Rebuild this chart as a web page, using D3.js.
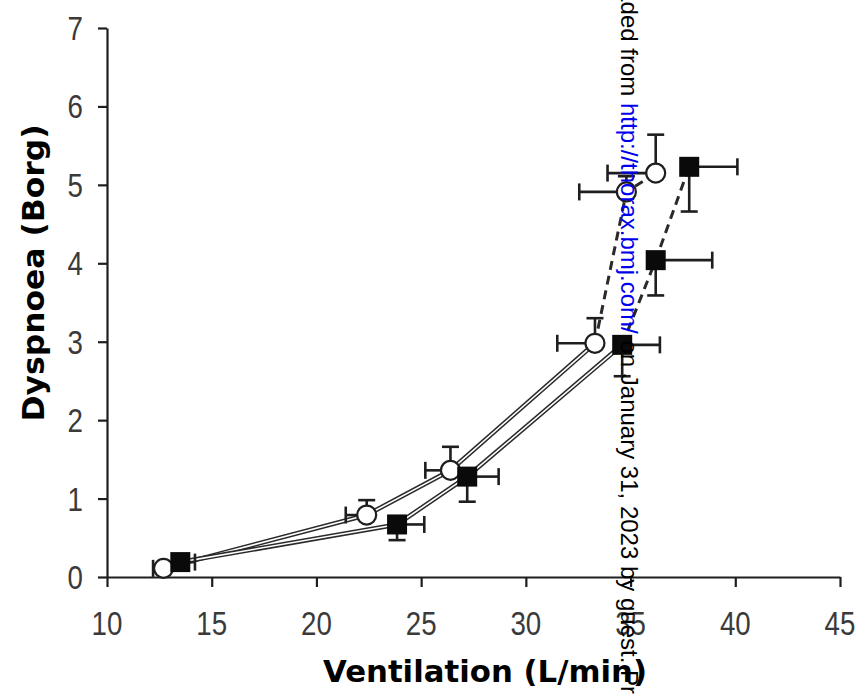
<!DOCTYPE html>
<html><head><meta charset="utf-8">
<script src="https://cdn.jsdelivr.net/npm/d3@7"></script>
<style>html,body{margin:0;padding:0;background:#fff;}svg{display:block;}</style>
</head><body>
<script>
// ---- data ----
const xTicks = [10, 15, 20, 25, 30, 35, 40, 45];
const yTicks = [0, 1, 2, 3, 4, 5, 6, 7];
const circleX    = [12.7, 22.4, 26.4, 33.3, 34.8, 36.2];
const circleY    = [0.11, 0.79, 1.36, 2.98, 4.91, 5.15];
const circleXerr = [0.5, 1.0, 1.2, 1.8, 2.25, 2.3];
const circleYerr = [0.05, 0.19, 0.3, 0.32, 0.2, 0.49];
const squareX    = [13.5, 23.85, 27.2, 34.6, 36.2, 37.8];
const squareY    = [0.19, 0.67, 1.28, 2.96, 4.04, 5.23];
const squareXerr = [0.7, 1.3, 1.5, 1.8, 2.7, 2.3];
const squareYerr = [0.05, 0.2, 0.32, 0.4, 0.45, 0.57];
const solidUntil = 3; // points 0..3 joined by solid line, 3..5 dashed
const xTitle = "Ventilation (L/min)";
const yTitle = "Dyspnoea (Borg)";
const wmPre = "Downloaded from ", wmLink = "http://thorax.bmj.com/", wmPost = " on January 31, 2023 by guest. Protected by copyright.";

const W = 866, H = 694;
const svg = d3.select("body").append("svg").attr("width", W).attr("height", H);
const x = d3.scaleLinear().domain([10, 45]).range([107, 840]);
const y = d3.scaleLinear().domain([0, 7]).range([577, 28]);
const ink = "#1e1e1e";

// axes
const gx = svg.append("g").attr("transform", `translate(0,${y(0)})`)
  .call(d3.axisBottom(x).tickValues(xTicks).tickSize(10).tickSizeOuter(0).tickFormat(""));
const gy = svg.append("g").attr("transform", `translate(${x(10)},0)`)
  .call(d3.axisLeft(y).tickValues(yTicks).tickSize(9).tickSizeOuter(0).tickFormat(""));
[gx, gy].forEach(g => {
  g.selectAll("path,line").attr("stroke", ink).attr("stroke-width", 2.2);
});

// tick labels
const lbl = { "font-family": "Liberation Sans, Arial, sans-serif", "font-size": 33, fill: "#3a3a3a" };
svg.append("g").selectAll("text").data(xTicks).join("text")
  .attr("transform", d => `translate(${x(d)},635) scale(0.84,1)`)
  .attr("text-anchor", "middle").text(d => d)
  .attr("font-family", lbl["font-family"]).attr("font-size", lbl["font-size"]).attr("fill", lbl.fill);
svg.append("g").selectAll("text").data(yTicks).join("text")
  .attr("transform", d => `translate(83,${y(d) + 12}) scale(0.84,1)`)
  .attr("text-anchor", "end").text(d => d)
  .attr("font-family", lbl["font-family"]).attr("font-size", lbl["font-size"]).attr("fill", lbl.fill);

// axis titles
svg.append("text").attr("x", 485).attr("y", 682).attr("text-anchor", "middle")
  .attr("font-family", "DejaVu Sans, sans-serif").attr("font-weight", "bold").attr("font-size", 31)
  .attr("textLength", 324).attr("lengthAdjust", "spacingAndGlyphs").attr("fill", "#000").text(xTitle);
svg.append("text").attr("transform", "translate(44,273) rotate(-90)").attr("text-anchor", "middle")
  .attr("font-family", "DejaVu Sans, sans-serif").attr("font-weight", "bold").attr("font-size", 31)
  .attr("textLength", 297).attr("lengthAdjust", "spacingAndGlyphs").attr("fill", "#000").text(yTitle);

// series
function series(xs, ys) { return xs.map((v, i) => ({ x: v, y: ys[i] })); }
const circles = series(circleX, circleY);
const squares = series(squareX, squareY);
const line = d3.line().x(d => x(d.x)).y(d => y(d.y));
const gl = svg.append("g");
[circles, squares].forEach(s => {
  const solid = s.slice(0, solidUntil + 1), dashed = s.slice(solidUntil);
  gl.append("path").attr("d", line(solid)).attr("fill", "none").attr("stroke", "#2a2a2a").attr("stroke-width", 4.6);
  gl.append("path").attr("d", line(solid)).attr("fill", "none").attr("stroke", "#fff").attr("stroke-width", 1.6);
  gl.append("path").attr("d", line(dashed)).attr("fill", "none").attr("stroke", "#2a2a2a").attr("stroke-width", 3)
    .attr("stroke-dasharray", "9,6");
});

// error bars
const ge = svg.append("g").attr("stroke", ink).attr("stroke-width", 2.6).attr("fill", "none");
const cap = 8.5;
function errBars(xs, ys, xe, ye, dir) {
  xs.forEach((v, i) => {
    const cx = x(v), cy = y(ys[i]);
    const ex = x(v + dir * xe[i]), ey = y(ys[i] - dir * ye[i]);
    ge.append("line").attr("x1", cx).attr("y1", cy).attr("x2", ex).attr("y2", cy);
    ge.append("line").attr("x1", ex).attr("y1", cy - cap).attr("x2", ex).attr("y2", cy + cap);
    ge.append("line").attr("x1", cx).attr("y1", cy).attr("x2", cx).attr("y2", ey);
    ge.append("line").attr("x1", cx - cap).attr("y1", ey).attr("x2", cx + cap).attr("y2", ey);
  });
}
errBars(circleX, circleY, circleXerr, circleYerr, -1);
errBars(squareX, squareY, squareXerr, squareYerr, 1);

// markers
svg.append("g").selectAll("circle").data(circles).join("circle")
  .attr("cx", d => x(d.x)).attr("cy", d => y(d.y)).attr("r", 9.5)
  .attr("fill", "#fff").attr("stroke", ink).attr("stroke-width", 2.2);
svg.append("g").selectAll("rect").data(squares).join("rect")
  .attr("x", d => x(d.x) - 10).attr("y", d => y(d.y) - 10).attr("width", 20).attr("height", 20)
  .attr("fill", "#0a0a0a");

// watermark
const wmFont = "Liberation Sans, Arial, sans-serif", wmSize = 24;
const tmp = svg.append("text").attr("font-family", wmFont).attr("font-size", wmSize).attr("xml:space", "preserve")
  .style("white-space", "pre").text(wmPre);
const preLen = tmp.node().getComputedTextLength();
tmp.remove();
const wm = svg.append("text").attr("transform", `translate(621,${103 - preLen}) rotate(90)`)
  .attr("font-family", wmFont).attr("font-size", wmSize).style("white-space", "pre");
wm.append("tspan").attr("fill", "#000").text(wmPre);
wm.append("tspan").attr("fill", "#0000ee").text(wmLink);
wm.append("tspan").attr("fill", "#000").text(wmPost);
</script>
</body></html>
